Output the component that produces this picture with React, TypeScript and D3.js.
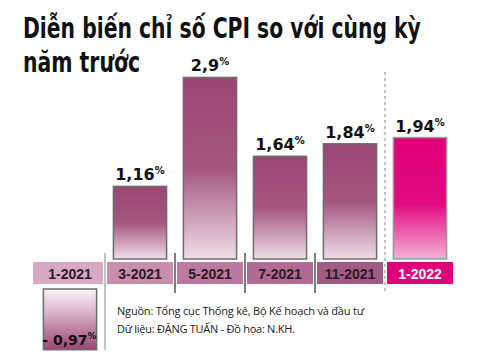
import React, { useEffect, useRef } from 'react';
import * as d3 from 'd3';

const periods = ['1-2021', '3-2021', '5-2021', '7-2021', '11-2021', '1-2022'];
const cpiValues = [-0.97, 1.16, 2.9, 1.64, 1.84, 1.94];
const valueLabels = ['- 0,97', '1,16', '2,9', '1,64', '1,84', '1,94'];
const titleLines = ['Diễn biến chỉ số CPI so với cùng kỳ', 'năm trước'];
const sourceLines = [
  'Nguồn: Tổng cục Thống kê, Bộ Kế hoạch và đầu tư',
  'Dữ liệu: ĐẶNG TUẤN - Đồ họa: N.KH.',
];

const cellColors = ['#d8a9c5', '#c98dae', '#bd7aa1', '#b06a93', '#a15a84', '#e0007a'];

const W = 480;
const H = 360;

export default function App() {
  const ref = useRef<SVGSVGElement | null>(null);

  useEffect(() => {
    const svg = d3.select(ref.current);
    svg.selectAll('*').remove();

    const zeroY = 259; // base of the positive bars
    const bandTop = 262;
    const bandBottom = 284;
    const negTop = 289; // negative bar hangs below the label band

    const x = d3.scaleBand().domain(periods).range([35, 455]).paddingInner(0.24).paddingOuter(0.12);
    const y = d3.scaleLinear().domain([0, 3]).range([zeroY, zeroY - 3 * 62.6]);
    const step = x.step();
    const gap = step * 0.24;

    const defs = svg.append('defs');
    const grad = (id: string, stops: [number, string][]) => {
      const g = defs.append('linearGradient').attr('id', id)
        .attr('x1', 0).attr('y1', 0).attr('x2', 0).attr('y2', 1);
      stops.forEach(([o, c]) => g.append('stop').attr('offset', o).attr('stop-color', c));
    };
    grad('barGrad', [[0, '#9a4673'], [0.5, '#a5567f'], [1, '#efdde8']]);
    grad('pinkGrad', [[0, '#df007a'], [0.55, '#e10a80'], [1, '#f6b3d7']]);
    grad('negGrad', [[0, '#fbf4f8'], [0.35, '#ddb9cd'], [1, '#9a4673']]);

    // title: condensed look by squeezing horizontally to the measured width
    const titleWidths = [398, 117];
    const titleBaselines = [38, 72];
    titleLines.forEach((line, i) => {
      const g = svg.append('g');
      const t = g.append('text')
        .attr('font-family', "'Liberation Sans Narrow', 'DejaVu Sans Condensed', sans-serif")
        .attr('font-weight', 'bold')
        .attr('font-size', 29)
        .attr('fill', '#111')
        .text(line);
      const natural = (t.node() as SVGTextElement).getComputedTextLength() || titleWidths[i];
      g.attr('transform', `translate(23,${titleBaselines[i]}) scale(${titleWidths[i] / natural},1)`);
    });

    // separators
    const sep = svg.append('g');
    periods.slice(1).forEach((p, i) => {
      const bx = (x(p) as number) - gap / 2;
      const isYearBreak = p === '1-2022';
      const top = isYearBreak ? 72 : 253;
      const bottom = i === 0 ? 350 : 293;
      sep.append('line')
        .attr('x1', bx).attr('x2', bx).attr('y1', top).attr('y2', bottom)
        .attr('stroke', isYearBreak || i === 0 ? '#888' : '#555')
        .attr('stroke-width', isYearBreak || i === 0 ? 1 : 1.5)
        .attr('stroke-dasharray', isYearBreak ? '3,3' : null);
    });

    // label band cells
    svg.append('g').selectAll('rect').data(periods).join('rect')
      .attr('x', (d, i) => (x(d) as number) - gap / 2 + (i === 0 ? -2 : 2))
      .attr('y', bandTop)
      .attr('width', (_, i) => (i === 0 ? step : step - 4))
      .attr('height', bandBottom - bandTop)
      .attr('fill', (_, i) => cellColors[i]);
    svg.append('g').selectAll('text').data(periods).join('text')
      .attr('x', d => (x(d) as number) + x.bandwidth() / 2)
      .attr('y', 278.5)
      .attr('text-anchor', 'middle')
      .attr('font-family', "'Liberation Sans', Arial, sans-serif")
      .attr('font-weight', 'bold')
      .attr('font-size', 14)
      .attr('fill', (_, i) => (i === periods.length - 1 ? '#fff' : '#2a1a22'))
      .text(d => d);

    // bars
    const data = periods.map((p, i) => ({ p, v: cpiValues[i], label: valueLabels[i], i }));
    const bars = svg.append('g').attr('stroke-width', 1.5);
    bars.selectAll('rect').data(data).join('rect')
      .attr('x', d => x(d.p) as number)
      .attr('width', x.bandwidth())
      .attr('y', d => (d.v >= 0 ? y(d.v) : negTop))
      .attr('height', d => zeroY - y(Math.abs(d.v)))
      .attr('fill', d => (d.v < 0 ? 'url(#negGrad)' : d.p === '1-2022' ? 'url(#pinkGrad)' : 'url(#barGrad)'))
      .attr('stroke', d => (d.p === '1-2022' ? '#9a9a9a' : '#6e6e6e'));

    // value labels
    const labels = svg.append('g')
      .attr('font-family', "'DejaVu Sans', sans-serif")
      .attr('font-weight', 'bold')
      .attr('fill', '#111');
    data.forEach(d => {
      const cx = (x(d.p) as number) + x.bandwidth() / 2;
      const neg = d.v < 0;
      const t = labels.append('text')
        .attr('y', neg ? negTop + (zeroY - y(Math.abs(d.v))) - 5 : y(d.v) - 6)
        .attr('font-size', neg ? 14 : 16)
        .attr('x', neg ? (x(d.p) as number) + x.bandwidth() : cx)
        .attr('text-anchor', neg ? 'end' : 'middle');
      t.append('tspan').text(d.label);
      t.append('tspan').attr('font-size', neg ? 9 : 10).attr('dy', -6).text('%');
    });

    // source
    const src = svg.append('g')
      .attr('font-family', "'Open Sans', 'Noto Sans', sans-serif")
      .attr('font-size', 11)
      .attr('fill', '#1a1a1a');
    src.append('text').attr('x', 117).attr('y', 315).attr('textLength', 247).text(sourceLines[0]);
    src.append('text').attr('x', 117).attr('y', 333).attr('textLength', 178).text(sourceLines[1]);
  }, []);

  return (
    <svg
      ref={ref}
      width={W}
      height={H}
      viewBox={`0 0 ${W} ${H}`}
      style={{ position: 'absolute', left: 0, top: 0, background: '#fff' }}
    />
  );
}
